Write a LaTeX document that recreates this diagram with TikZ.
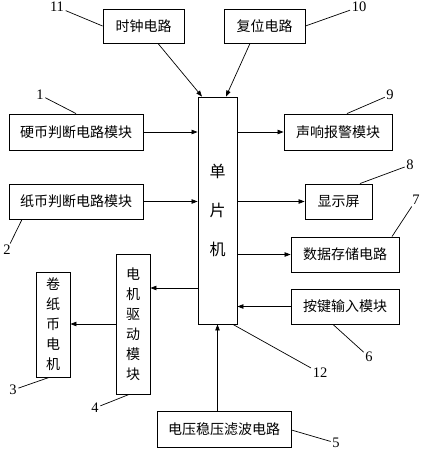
\documentclass[tikz,border=0pt]{standalone}
\usepackage{fontspec}
\setmainfont{Liberation Serif}
\newfontfamily\cjk{Noto Sans CJK SC}
\usetikzlibrary{arrows.meta}

\begin{document}
\begin{tikzpicture}[x=1pt,y=-1pt,
  box/.style={draw,line width=0.9pt,inner sep=0pt,align=center,font=\cjk\fontsize{14}{20}\selectfont},
  arr/.style={line width=0.7pt,-{Triangle[length=6pt,width=4.5pt]}},
  tag/.style={inner sep=1.5pt,font=\fontsize{14.5}{14.5}\selectfont},
  lead/.style={line width=0.7pt}]
\useasboundingbox (0,0) rectangle (422,450);
  %\draw[help lines,step=50] (0,0) grid (422,450);
\path
(143.5,26) node [box,minimum width=81,minimum height=34] (clk) {时钟电路}
(264.5,26) node [box,minimum width=81,minimum height=34] (rst) {复位电路}
(217.5,210.5) node [box,minimum width=39,minimum height=227,font=\cjk\fontsize{16}{39}\selectfont] (mcu) {单\\片\\机}
(76,132) node [box,minimum width=134,minimum height=36] (coin) {硬币判断电路模块}
(338,132) node [box,minimum width=108,minimum height=36] (alarm) {声响报警模块}
(76,201.5) node [box,minimum width=134,minimum height=35] (paper) {纸币判断电路模块}
(338.5,201.5) node [box,minimum width=67,minimum height=35] (disp) {显示屏}
(345,254.5) node [box,minimum width=108,minimum height=35] (store) {数据存储电路}
(345,306.5) node [box,minimum width=108,minimum height=35] (keys) {按键输入模块}
(133,324) node [box,minimum width=34,minimum height=140] (drv) {电\\机\\驱\\动\\模\\块}
(53,324.5) node [box,minimum width=34,minimum height=105] (motor) {卷\\纸\\币\\电\\机}
(224,429) node [box,minimum width=134,minimum height=36] (power) {电压稳压滤波电路}
;
% signal arrows
\draw[arr] (clk.south -| 158,0) -- (mcu.north -| 202,0);
\draw[arr] (rst.south -| 250,0) -- (mcu.north -| 226,0);
\draw[arr] (coin.east) -- (coin.east -| mcu.west);
\draw[arr] (paper.east) -- (paper.east -| mcu.west);
\draw[arr] (mcu.east |- alarm) -- (alarm.west);
\draw[arr] (mcu.east |- disp) -- (disp.west);
\draw[arr] (mcu.east |- store) -- (store.west);
\draw[arr] (keys.west) -- (keys.west -| mcu.east);
\draw[arr] (mcu.west |- 0,288) -- (drv.east |- 0,288);
\draw[arr] (drv.west) -- (drv.west -| motor.east);
\draw[arr] (power.north -| mcu.south) -- (mcu.south);
% part numbers
\path
(57,7) node [tag] (n11) {11}
(359,7) node [tag] (n10) {10}
(40,95) node [tag] (n1) {1}
(390,95) node [tag] (n9) {9}
(410,165) node [tag] (n8) {8}
(416,200) node [tag] (n7) {7}
(7,250) node [tag] (n2) {2}
(13,390) node [tag] (n3) {3}
(95,408) node [tag] (n4) {4}
(369,357) node [tag] (n6) {6}
(320,373) node [tag] (n12) {12}
(336,443) node [tag] (n5) {5}
;
\draw[lead] (clk.west) -- (n11);
\draw[lead] (rst.east) -- (n10);
\draw[lead] (coin.north) -- (n1);
\draw[lead] (alarm.north -| 347,0) -- (n9);
\draw[lead] (disp.north -| 360,0) -- (n8);
\draw[lead] (store.north -| 392,0) -- (n7);
\draw[lead] (paper.south -| 22,0) -- (n2);
\draw[lead] (motor.south -| 49,0) -- (n3);
\draw[lead] (drv.south -| 129,0) -- (n4);
\draw[lead] (keys.south -| 333,0) -- (n6);
\draw[lead] (mcu.south -| 233,0) -- (n12);
\draw[lead] (power.east |- 0,430) -- (n5);
\end{tikzpicture}
\end{document}
